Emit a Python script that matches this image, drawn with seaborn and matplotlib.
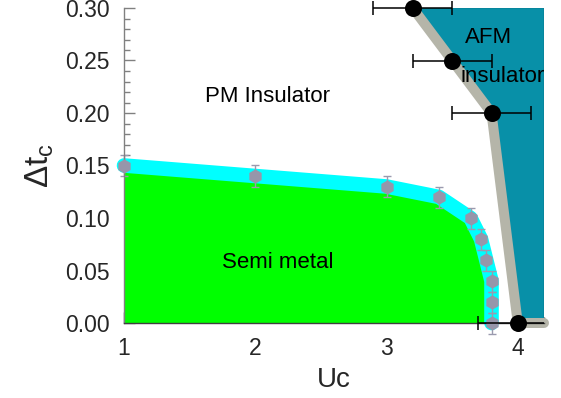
import matplotlib
matplotlib.use("Agg")
import matplotlib.pyplot as plt
from matplotlib.patches import Rectangle
from matplotlib.ticker import MultipleLocator, FormatStrFormatter
import seaborn as sns

# Semimetal -> PM insulator critical line (Uc, delta t_c) with vertical errors
sm_u = [1.0, 2.0, 3.0, 3.4, 3.64, 3.72, 3.76, 3.8, 3.8, 3.8]
sm_dt = [0.15, 0.14, 0.13, 0.12, 0.10, 0.08, 0.06, 0.04, 0.02, 0.00]
sm_err = [0.01, 0.01, 0.01, 0.01, 0.01, 0.01, 0.01, 0.01, 0.01, 0.01]

# Boundary of the AFM insulator with horizontal errors
afm_u = [3.2, 3.5, 3.8, 4.0]
afm_dt = [0.30, 0.25, 0.20, 0.00]
afm_err = [0.3, 0.3, 0.3, 0.3]

u_lim = [1.0, 4.2]
dt_lim = [0.0, 0.30]
x_ticks = [1, 2, 3, 4]

sns.set_theme(style="white")
plt.rcParams["font.family"] = ["Liberation Sans", "DejaVu Sans"]
plt.rcParams["mathtext.fontset"] = "custom"
plt.rcParams["mathtext.rm"] = "Liberation Sans"
plt.rcParams["mathtext.it"] = "Liberation Sans"

fig = plt.figure(figsize=(5.61, 3.98), dpi=100)
ax = fig.add_axes([124 / 561, 1 - 323 / 398, 420 / 561, 315 / 398])
ax.set_xlim(*u_lim)
ax.set_ylim(*dt_lim)

# AFM insulator region
ax.fill(afm_u + [u_lim[1], u_lim[1]], afm_dt + [dt_lim[0], dt_lim[1]],
        color="#0890a8", lw=0.8, edgecolor="#077f95", zorder=1)
sns.lineplot(x=afm_u + [u_lim[1]], y=afm_dt + [0.0], sort=False, estimator=None,
             color="#b5b5a9", lw=7.2, solid_capstyle="round",
             solid_joinstyle="round", clip_on=False, zorder=2, ax=ax)

# Semimetal region
ax.fill(sm_u + [sm_u[0]], sm_dt + [0.0], color="#00ff00", lw=0, zorder=1)
sns.lineplot(x=sm_u, y=sm_dt, sort=False, estimator=None, color="#00ffff",
             lw=10.5, solid_capstyle="round", solid_joinstyle="round",
             clip_on=False, zorder=2, ax=ax)

ax.errorbar(sm_u, sm_dt, yerr=sm_err, fmt="none", ecolor="#9a9aae",
            elinewidth=1.0, capsize=3, capthick=1.0, zorder=3, clip_on=False)
sns.scatterplot(x=sm_u, y=sm_dt, marker="h", s=105, color="#9696aa",
                linewidth=0, clip_on=False, zorder=4, ax=ax)

# AFM boundary points
eb2 = ax.errorbar(afm_u, afm_dt, xerr=afm_err, fmt="none", ecolor="black",
                  elinewidth=1.1, capsize=5, capthick=1.1, zorder=5)
clip_rect = Rectangle((0, -0.1), 1.0, 1.2, transform=ax.transAxes)
for part in eb2.get_children():
    part.set_clip_path(clip_rect)
sns.scatterplot(x=afm_u, y=afm_dt, s=150, color="black", linewidth=0,
                clip_on=False, zorder=6, ax=ax)

# Region labels
ax.text(2.093, 0.2155, "PM Insulator", ha="center", va="center", fontsize=16,
        color="black")
ax.text(2.173, 0.058, "Semi metal", ha="center", va="center", fontsize=16,
        color="black")
ax.text(3.776, 0.272, "AFM", ha="center", va="center", fontsize=16,
        color="black", zorder=7)
ax.text(3.887, 0.2346, "insulator", ha="center", va="center", fontsize=16,
        color="black", zorder=7)

# Axes styling
for side in ("top", "right"):
    ax.spines[side].set_visible(False)
ax.spines["left"].set_color("#808080")
ax.spines["bottom"].set_color("#404040")
for side in ("left", "bottom"):
    ax.spines[side].set_linewidth(1.0)
    ax.spines[side].set_zorder(3.5)

ax.set_xticks(x_ticks)
ax.xaxis.set_minor_locator(MultipleLocator(0.2))
ax.yaxis.set_major_locator(MultipleLocator(0.05))
ax.yaxis.set_minor_locator(MultipleLocator(0.01))
ax.yaxis.set_major_formatter(FormatStrFormatter("%.2f"))
ax.tick_params(which="both", direction="in", labelsize=16.5, pad=10,
               bottom=True, left=True)
ax.tick_params(which="major", length=8, width=1.0)
ax.tick_params(which="minor", length=4, width=1.0)
ax.tick_params(axis="y", which="both", color="#808080")
ax.tick_params(axis="x", which="both", color="#404040")

ax.set_xlabel("Uc", fontsize=20, labelpad=5)
ax.set_ylabel(r"$\Delta t_c$", fontsize=24, labelpad=7)

fig.savefig("out.png", dpi=100)
